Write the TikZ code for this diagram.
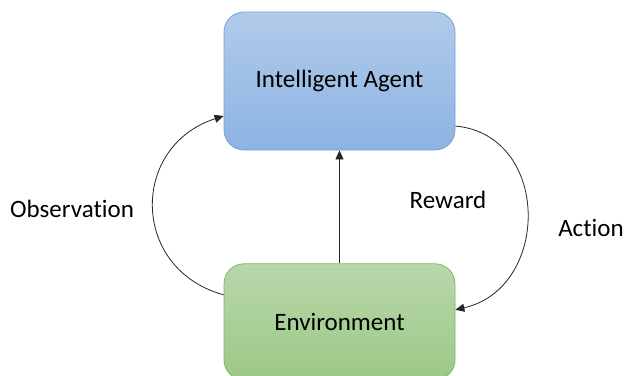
\documentclass[tikz,border=0pt]{standalone}
\usepackage{fontspec}
\setmainfont{Carlito}[Ligatures=NoCommon]
\usepackage{tikz}
\usetikzlibrary{arrows.meta,positioning}

\definecolor{agenttop}{HTML}{B1CBEA}
\definecolor{agentbot}{HTML}{8DB3E2}
\definecolor{agentline}{HTML}{6FA3DA}
\definecolor{envtop}{HTML}{B8D8AA}
\definecolor{envbot}{HTML}{9CC887}
\definecolor{envline}{HTML}{7DB75E}

\begin{document}
\begin{tikzpicture}[
        x=1pt, y=-1pt,
        >={Triangle[length=9pt,width=8pt]},
        box/.style={
            draw,
            rounded corners=20pt,
            line width=0.8pt,
            align=center,
            minimum width=231pt,
            font=\fontsize{25}{30}\selectfont
        },
        agentbox/.style={
            box,
            draw=agentline,
            top color=agenttop,
            bottom color=agentbot,
            minimum height=138pt
        },
        envbox/.style={
            box,
            draw=envline,
            top color=envtop,
            bottom color=envbot,
            minimum height=116pt
        },
        lbl/.style={font=\fontsize{25}{30}\selectfont},
        flow/.style={->, line width=0.8pt, draw=black!85}
    ]
        \useasboundingbox (0,0) rectangle (626,375);

        % Agent and environment boxes
        \node[agentbox] (agent) at (339.5,81) {Intelligent Agent};
        \node[envbox, below=113pt of agent] (env) {Environment};

        % Labels
        \node[lbl] (obs) at (72,209) {Observation};
        \node[lbl] (rew) at (448,200) {Reward};
        \node[lbl] (act) at (591,228) {Action};

        % Connectors
        \draw[flow] (env.north) -- (agent.south);
        \draw[flow] ([yshift=27pt]env.west)
            .. controls (130,269) and (130,146) .. ([yshift=-35pt]agent.west);
        \draw[flow] ([yshift=-45pt]agent.east)
            .. controls (551,135) and (551,288) .. ([yshift=12pt]env.east);
    \end{tikzpicture}
\end{document}
